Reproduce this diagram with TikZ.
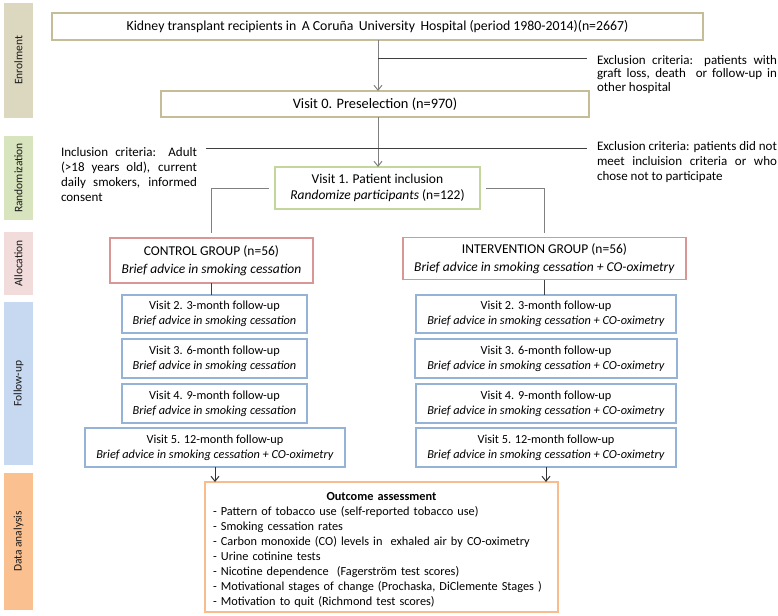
\documentclass[tikz,border=0pt]{standalone}
\usepackage{fontspec}
\setmainfont{Carlito}
\usetikzlibrary{arrows.meta}
\definecolor{enrolbg}{HTML}{DCD7BF}
\definecolor{enrolbd}{HTML}{C4BD97}
\definecolor{randbg}{HTML}{D7E4BD}
\definecolor{randbd}{HTML}{C3D69B}
\definecolor{allocbg}{HTML}{F2DCDB}
\definecolor{allocbd}{HTML}{D99694}
\definecolor{follbg}{HTML}{C6D9F1}
\definecolor{follbd}{HTML}{95B3D7}
\definecolor{databg}{HTML}{FAC090}
\definecolor{databd}{HTML}{F9BC8C}
\definecolor{lnc}{HTML}{808080}
\begin{document}
\begin{tikzpicture}[x=1pt,y=-1pt,
  every node/.style={inner sep=0pt, outer sep=0pt},
  side/.style={fill=#1, rotate=90, minimum height=29pt,
    font=\fontsize{11.5}{13}\selectfont, text=black!90},
  box/.style={draw=#1, fill=white, align=center,
    font=\fontsize{12.3}{15}\selectfont},
  crit/.style={align=justify, anchor=north west,
    font=\fontsize{13}{15}\selectfont},
  gl/.style={draw=lnc, line width=1pt},
  dl/.style={draw=black!75, line width=1pt},
  arr/.style={line width=1pt, -{Straight Barb[length=5pt,width=8pt]}}
]
\useasboundingbox[fill=white] (0,0) rectangle (778,615);

% side labels
\node[side=enrolbg, minimum width=115pt] (sEn) at (18.5,60.5) {Enrolment};
\node[side=randbg, minimum width=84pt] (sRa) at (18.5,178) {Randomization};
\node[side=allocbg, minimum width=63pt] (sAl) at (18.5,263.5) {Allocation};
\node[side=follbg, minimum width=163pt] (sFo) at (18.5,383.5) {Follow-up};
\node[side=databg, minimum width=137pt] (sDa) at (18.5,541.5) {Data analysis};

% main boxes
\node[box=enrolbd, line width=2.5pt, minimum width=651pt, minimum height=27pt,
  font=\fontsize{13.8}{16}\selectfont] (top) at (377.5,26.5)
  {Kidney transplant recipients in \,A Coruña \,University \,Hospital (period 1980-2014)(n=2667)};
\node[box=enrolbd, line width=2.5pt, minimum width=428pt, minimum height=26pt,
  font=\fontsize{14.4}{16}\selectfont] (v0) at (375,104)
  {Visit 0. Preselection (n=970)};
\node[box=randbd, line width=2pt, minimum width=205pt, minimum height=42pt,
  font=\fontsize{13.5}{16}\selectfont] (v1) at (377.5,188)
  {Visit 1. Patient inclusion\\\textit{Randomize participants} (n=122)};

\node[box=allocbd, line width=1.8pt, minimum width=203pt, minimum height=45pt,
  font=\fontsize{13.5}{17.5}\selectfont] (ctrl) at (211.5,260.5)
  {CONTROL GROUP (n=56)\\\textit{Brief advice in smoking cessation}};
\node[box=allocbd, line width=1.8pt, minimum width=283pt, minimum height=42pt,
  font=\fontsize{13.5}{17.5}\selectfont] (intv) at (544.5,258.5)
  {INTERVENTION GROUP (n=56)\\\textit{Brief advice in smoking cessation + CO-oximetry}};

% follow-up, control arm
\node[box=follbd, line width=1.6pt, minimum width=185pt, minimum height=38pt] (c2) at (214.5,314)
  {Visit 2. 3-month follow-up\\\textit{Brief advice in smoking cessation}};
\node[box=follbd, line width=1.6pt, minimum width=185pt, minimum height=39pt] (c3) at (214.5,358.5)
  {Visit 3. 6-month follow-up\\\textit{Brief advice in smoking cessation}};
\node[box=follbd, line width=1.6pt, minimum width=185pt, minimum height=39pt] (c4) at (214.5,403.5)
  {Visit 4. 9-month follow-up\\\textit{Brief advice in smoking cessation}};
\node[box=follbd, line width=1.6pt, minimum width=260pt, minimum height=39pt] (c5) at (215,447.5)
  {Visit 5. 12-month follow-up\\\textit{Brief advice in smoking cessation + CO-oximetry}};

% follow-up, intervention arm
\node[box=follbd, line width=1.6pt, minimum width=260pt, minimum height=38pt] (i2) at (546,314)
  {Visit 2. 3-month follow-up\\\textit{Brief advice in smoking cessation + CO-oximetry}};
\node[box=follbd, line width=1.6pt, minimum width=262pt, minimum height=39pt] (i3) at (546,358.5)
  {Visit 3. 6-month follow-up\\\textit{Brief advice in smoking cessation + CO-oximetry}};
\node[box=follbd, line width=1.6pt, minimum width=260pt, minimum height=39pt] (i4) at (546,403.5)
  {Visit 4. 9-month follow-up\\\textit{Brief advice in smoking cessation + CO-oximetry}};
\node[box=follbd, line width=1.6pt, minimum width=260pt, minimum height=39pt] (i5) at (546,447.5)
  {Visit 5. 12-month follow-up\\\textit{Brief advice in smoking cessation + CO-oximetry}};

% outcome
\node[draw=databd, line width=2.8pt, fill=white, minimum width=353pt, minimum height=130pt,
  text width=337pt, align=left, font=\fontsize{12.3}{15}\selectfont] (out) at (381.5,547)
  {{\centering\rule{0pt}{14pt}\textbf{Outcome assessment}\par}
   - Pattern of tobacco use (self-reported tobacco use)\\
   - Smoking cessation rates\\
   - Carbon monoxide (CO) levels in \ exhaled air by CO-oximetry\\
   - Urine cotinine tests\\
   - Nicotine dependence \ (Fagerström test scores)\\
   - Motivational stages of change (Prochaska, DiClemente Stages )\\
   - Motivation to quit (Richmond test scores)};

% criteria texts
\node[crit, text width=180pt, font=\fontsize{13}{13.5}\selectfont] (ex1) at (597,55)
  {Exclusion criteria: patients with graft loss, death \ or follow-up in other hospital};
\node[crit, text width=136pt] (inc) at (61,147)
  {Inclusion criteria: Adult (>18 years old), current daily smokers, informed consent};
\node[crit, text width=180pt] (ex2) at (597,141)
  {Exclusion criteria: patients did not meet incluision criteria or who chose not to participate};

% coordinates
\coordinate (ax) at (378,0);
\coordinate (j1) at (378,59);
\coordinate (j1e) at (587,59);
\coordinate (j2s) at (206,148);
\coordinate (j2e) at (587,148);

% connectors
\draw[arr, draw=lnc] (top.south -| ax) -- (v0.north -| ax);
\draw[arr, draw=lnc] (v0.south -| ax) -- (v1.north -| ax);
\draw[dl] (j1) -- (j1e);
\draw[dl] (j2s) -- (j2e);
\draw[gl, shorten <=6pt, shorten >=5pt] (v1.west) -| (ctrl.north);
\draw[gl, shorten <=6pt, shorten >=5pt] (v1.east) -| (intv.north);
\draw[dl] (ctrl.south) -- (ctrl.south |- c2.north);
\draw[dl] (intv.south) -- (intv.south |- i2.north);
\draw[arr, draw=black!80] (c5.south) -- (c5.south |- out.north);
\draw[arr, draw=black!80] (i5.south) -- (i5.south |- out.north);
\end{tikzpicture}
\end{document}
